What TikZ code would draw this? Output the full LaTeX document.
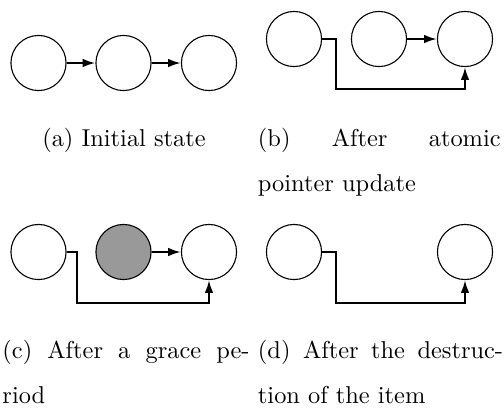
\documentclass[tikz,border=0pt]{standalone}
\usetikzlibrary{arrows.meta}
\begin{document}
\begin{tikzpicture}[x=0.41pt,y=-0.41pt,
  item/.style={circle,draw,line width=0.45pt,minimum size=22.6pt,inner sep=0pt},
  gone/.style={item,fill=black!40},
  arr/.style={line width=0.85pt,-{Latex[length=5.2pt,width=3.5pt]}},
  captext/.style={inner sep=0pt,anchor=base west,font=\normalsize}]
\useasboundingbox (0,0) rectangle (504,407);
% (a)
\node[item] (a1) at (38.5,63) {};
\node[item] (a2) at (123.5,63) {};
\node[item] (a3) at (209,63) {};
\draw[arr] (a1) -- (a2);
\draw[arr] (a2) -- (a3);
% (b)
\node[item] (b1) at (294,39) {};
\node[item] (b2) at (379,39) {};
\node[item] (b3) at (465,39) {};
\draw[arr] (b2) -- (b3);
\draw[arr] (b1.east) -- ++(14.3,0) -- ++(0,50.3) -| (b3.south);
% (c)
\node[item] (c1) at (38.5,252) {};
\node[gone] (c2) at (123.5,252) {};
\node[item] (c3) at (209,252) {};
\draw[arr] (c2) -- (c3);
\draw[arr] (c1.east) -- ++(10.7,0) -- ++(0,51.3) -| (c3.south);
% (d)
\node[item] (d1) at (294,252) {};
\node[item] (d3) at (465,252) {};
\draw[arr] (d1.east) -- ++(14.3,0) -- ++(0,51.3) -| (d3.south);
% captions
\node[captext,anchor=base] (capa) at (124,146.5) {(a) Initial state};
\node[captext] (capb1) at (257.5,146.5) {\makebox[99.5pt][s]{(b) After atomic}};
\node[captext] (capb2) at (257.5,191.5) {pointer update};
\node[captext] (capc1) at (2,358.5) {\makebox[101.3pt][s]{(c) After a grace pe-}};
\node[captext] (capc2) at (2,403.5) {riod};
\node[captext] (capd1) at (257.5,358.5) {\makebox[100.5pt][s]{(d) After the destruc-}};
\node[captext] (capd2) at (257.5,403.5) {tion of the item};
\end{tikzpicture}
\end{document}
